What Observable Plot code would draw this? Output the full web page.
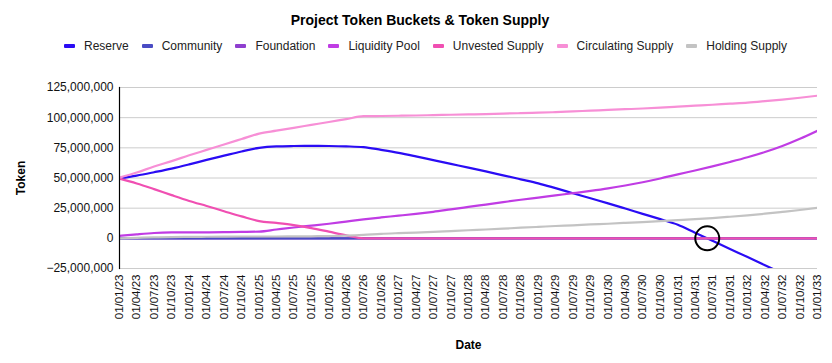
<!DOCTYPE html>
<html>
<head>
<meta charset="utf-8">
<script src="https://cdn.jsdelivr.net/npm/d3@7"></script>
<script src="https://cdn.jsdelivr.net/npm/@observablehq/plot@0.6"></script>
<style>
  body { margin: 0; background: #fff; font-family: Arial, "Liberation Sans", sans-serif; }
  #wrap { width: 832px; height: 363px; position: relative; overflow: hidden; }
  #title { height: 32px; box-sizing: border-box; padding-top: 11px; padding-left: 8px; line-height: 18px; font-size: 14px; font-weight: bold; text-align: center; color: #000; }
  #legend { height: 28px; display: flex; align-items: center; padding-left: 64px; font-size: 12px; color: #222; white-space: nowrap; }
  .item { display: flex; align-items: center; flex: none; margin-right: 13px; }
  .sw { width: 11px; height: 4px; margin-right: 9px; border-radius: 1px; flex: none; }
  #chart svg g[aria-label="x-axis label"] text, #chart svg g[aria-label="y-axis label"] text { font-weight: bold; font-size: 12px; fill: #000; }
</style>
</head>
<body>
<div id="wrap">
  <div id="title">Project Token Buckets &amp; Token Supply</div>
  <div id="legend"></div>
  <div id="chart"></div>
</div>
<script>
// Quarterly dates (x categories / tick labels)
const dates = [
  "2023-01-01","2023-04-01","2023-07-01","2023-10-01",
  "2024-01-01","2024-04-01","2024-07-01","2024-10-01",
  "2025-01-01","2025-04-01","2025-07-01","2025-10-01",
  "2026-01-01","2026-04-01","2026-07-01","2026-10-01",
  "2027-01-01","2027-04-01","2027-07-01","2027-10-01",
  "2028-01-01","2028-04-01","2028-07-01","2028-10-01",
  "2029-01-01","2029-04-01","2029-07-01","2029-10-01",
  "2030-01-01","2030-04-01","2030-07-01","2030-10-01",
  "2031-01-01","2031-04-01","2031-07-01","2031-10-01",
  "2032-01-01","2032-04-01","2032-07-01","2032-10-01",
  "2033-01-01"
];

const seriesNames = ["Reserve","Community","Foundation","Liquidity Pool","Unvested Supply","Circulating Supply","Holding Supply"];
const seriesColors = ["#2a0cf4","#4a4cc4","#8f3fcf","#c03ce4","#f04fb2","#f78fd6","#c3c3c3"];

// values in millions of tokens
const reserve = [49.7,52,54.8,57.8,61.3,65,68.5,72,75,76.2,76.5,76.6,76.5,76.2,75.6,73.3,70.8,67.9,64.8,61.7,58.6,55.5,52.2,48.9,45.6,41.6,37.4,33.2,29,24.7,20.3,15.9,11.3,4.7,-2,-8.8,-15.5,-22.3,-29];
const community = [0,0,0,0,0,0,0,0,0,0,0,0,0,0,0,0,0,0,0,0,0,0,0,0,0,0,0,0,0,0,0,0,0,0,0,0,0,0,0,0,0];
const foundation = [0,0,0,0,0,0,0,0,0,0,0,0,0,0,0,0,0,0,0,0,0,0,0,0,0,0,0,0,0,0,0,0,0,0,0,0,0,0,0,0,0];
const liquidityPool = [2,3.3,4.4,4.9,5,5,5.1,5.3,5.6,7.3,9,10.5,12.1,13.9,15.7,17.3,18.8,20.3,22,24,26,28,30,32,33.8,35.6,37.4,39.3,41.4,43.8,46.5,49.6,53,56.2,59.6,63.3,67.2,71.5,76.5,82.5,89.2];
const unvestedSupply = [49.5,45.5,40.8,35.8,31,26.8,22.5,18.2,14.3,12.8,11,8.5,5.5,2.5,0,0,0,0,0,0,0,0,0,0,0,0,0,0,0,0,0,0,0,0,0,0,0,0,0,0,0];
const circulatingSupply = [50.3,54.5,59.5,64,68.8,73.3,77.8,82.3,86.8,89.2,91.6,94,96.4,98.8,101.2,101.4,101.6,101.8,102.1,102.4,102.7,103,103.4,103.7,104.1,104.6,105.2,105.8,106.4,107,107.6,108.3,109.1,109.9,110.7,111.6,112.5,113.7,115,116.5,118.2];
const holdingSupply = [0,0.4,0.8,1,1.2,1.3,1.4,1.5,1.5,1.5,1.6,1.7,1.9,2.2,2.8,3.7,4.3,4.8,5.3,6,6.7,7.3,8,8.8,9.5,10.2,10.8,11.5,12.1,12.8,13.5,14.3,15.1,15.9,16.8,17.9,19.1,20.4,21.9,23.5,25.3];

const yTicks = [-25000000, 0, 25000000, 50000000, 75000000, 100000000, 125000000];
const highlight = [{date: "2031-06-04", value: 0}];

const seriesValues = [reserve, community, foundation, liquidityPool, unvestedSupply, circulatingSupply, holdingSupply];
const parse = d3.utcParse("%Y-%m-%d");
const xDates = dates.map(parse);

const rows = [];
seriesNames.forEach((name, s) => {
  seriesValues[s].forEach((v, i) => rows.push({series: name, date: xDates[i], value: v * 1e6}));
});
const lineOrder = ["Reserve","Foundation","Community","Liquidity Pool","Unvested Supply","Circulating Supply","Holding Supply"];
rows.sort((a, b) => lineOrder.indexOf(a.series) - lineOrder.indexOf(b.series));

// legend
const legend = document.getElementById("legend");
seriesNames.forEach((name, i) => {
  const it = document.createElement("div");
  it.className = "item";
  const sw = document.createElement("span");
  sw.className = "sw";
  sw.style.background = seriesColors[i];
  const tx = document.createElement("span");
  tx.textContent = name;
  it.appendChild(sw); it.appendChild(tx);
  legend.appendChild(it);
});

const chart = Plot.plot({
  width: 832,
  height: 303,
  marginTop: 27,
  marginBottom: 95,
  marginLeft: 119,
  marginRight: 15,
  style: {fontFamily: "Arial, 'Liberation Sans', sans-serif", fontSize: "12px", color: "#111", background: "#fff"},
  x: {type: "utc", domain: [xDates[0], xDates[xDates.length - 1]]},
  y: {domain: [yTicks[0], yTicks[yTicks.length - 1]]},
  color: {domain: seriesNames, range: seriesColors},
  marks: [
    Plot.gridY(yTicks, {stroke: "#cccccc", strokeOpacity: 1, strokeWidth: 1}),
    Plot.axisY(yTicks, {tickFormat: d3.format(","), tickSize: 0, tickPadding: 6, fontSize: 12, label: "Token", labelAnchor: "center", labelArrow: "none", labelOffset: 103}),
    Plot.axisX(xDates, {tickFormat: d3.utcFormat("%d/%m/%y"), tickRotate: -90, tickSize: 0, tickPadding: 6, fontSize: 11.5, label: "Date", labelAnchor: "center", labelArrow: "none", labelOffset: 80}),
    Plot.line(rows, {x: "date", y: "value", z: "series", stroke: "series", strokeWidth: 2.2, curve: "monotone-x", clip: true}),
    Plot.frame({anchor: "left", stroke: "#000", strokeWidth: 1.2}),
    Plot.dot(highlight, {x: d => parse(d.date), y: d => d.value * 1e6, r: 12, stroke: "#000", strokeWidth: 2, fill: "none"})
  ]
});
document.getElementById("chart").appendChild(chart);
</script>
</body>
</html>
